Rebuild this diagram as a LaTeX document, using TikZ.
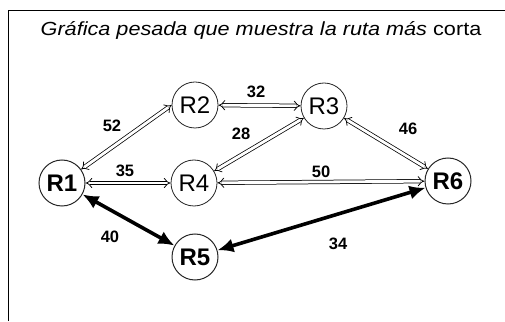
\documentclass[tikz,border=0pt]{standalone}
\usepackage{fontspec}
\setmainfont{Liberation Sans}
\usetikzlibrary{arrows.meta}
\colorlet{router edge}{black!85}
\tikzset{router/.style={circle, draw=router edge, line width=0.8pt, minimum size=46pt, inner sep=0pt, font=\fontsize{24}{24}\selectfont},
    onpath/.style={router, line width=1pt, font=\fontsize{24}{24}\selectfont\bfseries},
    link/.style={double, double distance=2.8pt, line width=0.75pt, {Implies}-{Implies}},
    shortest/.style={line width=3.6pt, {Latex[length=16pt,width=14pt]}-{Latex[length=16pt,width=14pt]}},
    weight/.style={font=\fontsize{16.5}{16.5}\selectfont\bfseries}}

\begin{document}
\begin{tikzpicture}[x=20pt, y=20pt]
 \useasboundingbox (0,0) rectangle (25.25,16.05);

 % frame
 \draw[line width=0.8pt] (0.4,0) -- (0.4,15.55) -- (25.25,15.55);
 \node[anchor=base, xscale=1.14, transform shape] (title) at (13.05,14.25)
   {\fontsize{19}{19}\selectfont\itshape Gráfica pesada que muestra la ruta más \upshape corta};

 % routers
 \node[onpath] (R1) at (3.1,6.9) {R1};
 \node[router] (R2) at (9.75,10.8) {R2};
 \node[router] (R3) at (16.2,10.75) {R3};
 \node[router] (R4) at (9.7,6.9) {R4};
 \node[onpath] (R5) at (9.75,3.2) {R5};
 \node[onpath] (R6) at (22.4,7.0) {R6};

 % links
 \draw[link] (R1) -- (R2.west);
 \draw[link] (R2) -- (R3);
 \draw[link] (R4) -- (R3);
 \draw[link] (R3) -- (R6);
 \draw[link] (R1) -- (R4);
 \draw[link] (R4) -- (R6);
 \draw[shortest] (R1) -- (R5);
 \draw[shortest] (R5) -- (R6);

 % weights
 \node[weight] (w12) at (5.6,9.75) {52};
 \node[weight] (w23) at (12.8,11.45) {32};
 \node[weight] (w43) at (12.05,9.35) {28};
 \node[weight] (w14) at (6.25,7.5) {35};
 \node[weight] (w36) at (20.4,9.6) {46};
 \node[weight] (w46) at (16.05,7.45) {50};
 \node[weight] (w15) at (5.5,4.2) {40};
 \node[weight] (w56) at (16.9,3.85) {34};

\end{tikzpicture}
\end{document}
